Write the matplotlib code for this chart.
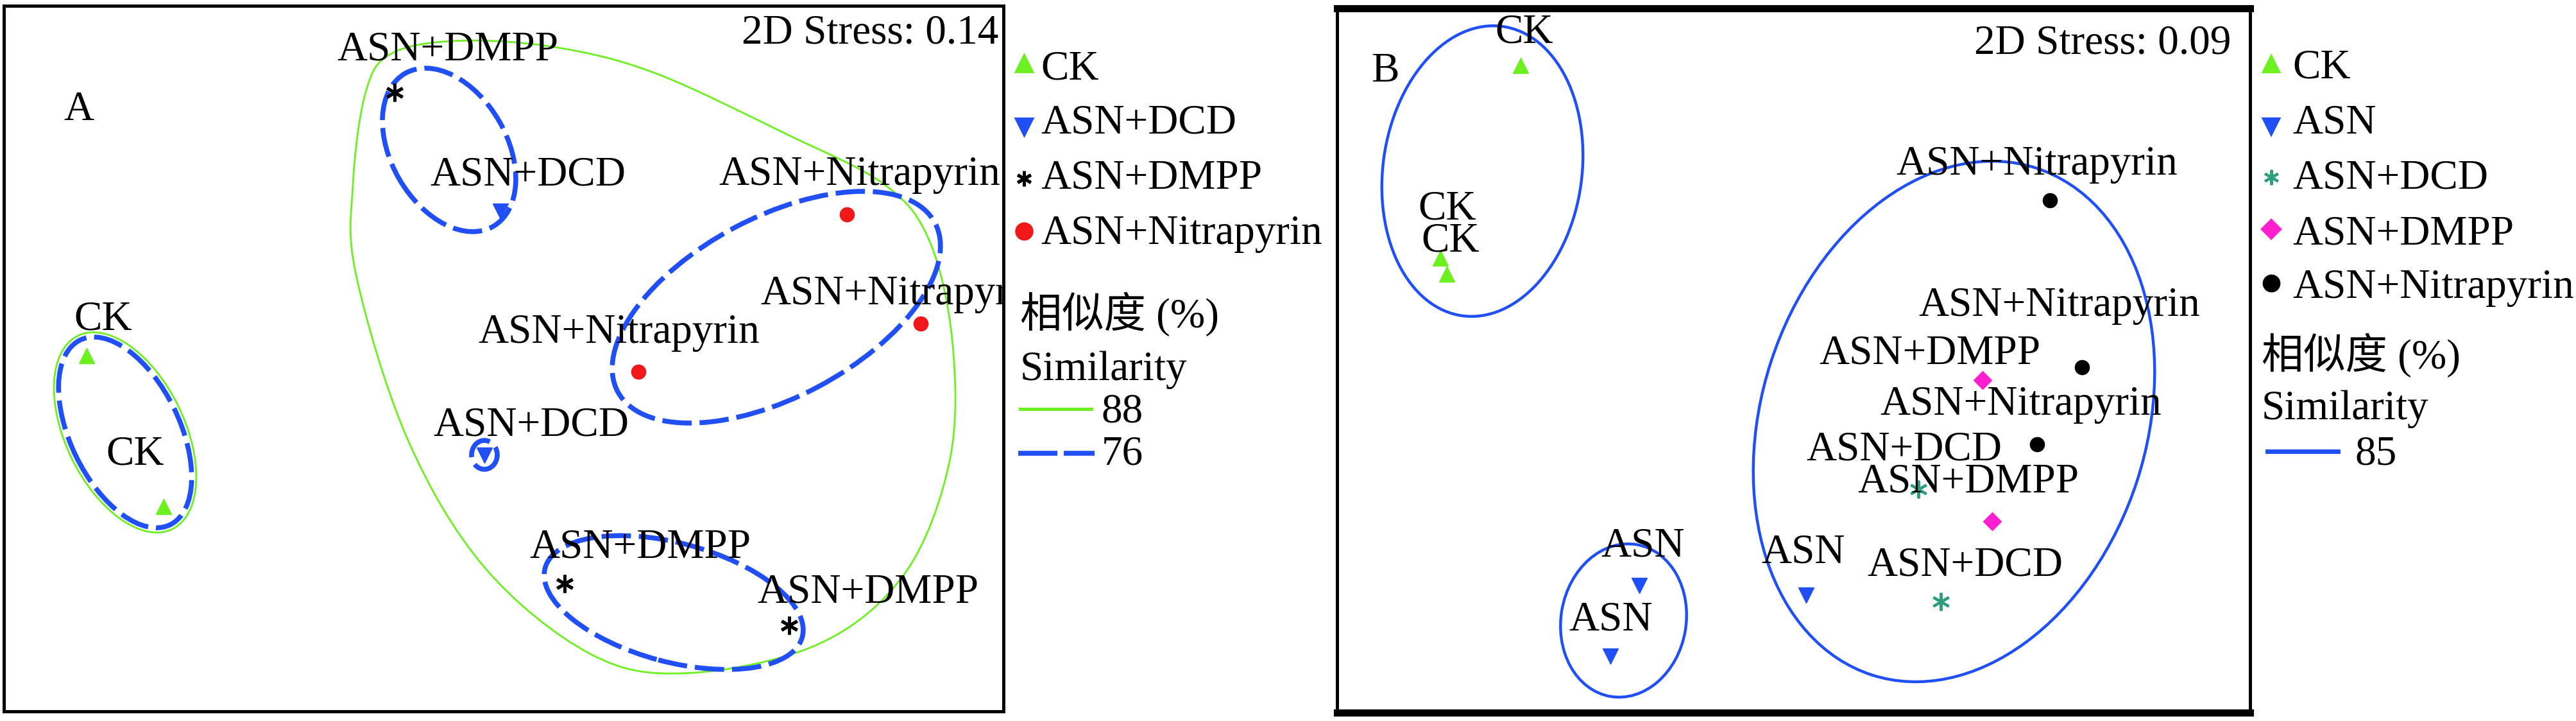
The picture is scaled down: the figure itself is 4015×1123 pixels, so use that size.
import numpy as np
import matplotlib.pyplot as plt
from matplotlib.patches import Ellipse, PathPatch
from matplotlib.path import Path
from matplotlib.lines import Line2D

plt.rcParams['font.family'] = ['Liberation Serif', 'Noto Sans CJK SC']

# ---------------- data (NMDS coordinates) ----------------
# panel A
a_ck_x = [-1.30, -1.06]
a_ck_y = [0.01, -0.46]
a_dcd_x = [-0.01, -0.06]
a_dcd_y = [0.46, -0.30]
a_dmpp_x = [-0.34, 0.19, 0.89]
a_dmpp_y = [0.83, -0.70, -0.83]
a_nit_x = [1.07, 1.30, 0.42]
a_nit_y = [0.45, 0.11, -0.04]
a_stress = '2D Stress: 0.14'

# 88 % similarity outline (big group) and clusters at 88 / 76 %
a_g88_x = [-0.43, -0.35, -0.14, 0.16, 0.47, 0.88, 1.19, 1.33, 1.40, 1.39,
           1.25, 0.98, 0.57, 0.27, -0.06, -0.30, -0.46, -0.47]
a_g88_y = [0.83, 0.95, 0.99, 0.97, 0.89, 0.70, 0.54, 0.36, 0.04, -0.32,
           -0.67, -0.89, -0.98, -0.92, -0.65, -0.25, 0.26, 0.54]
a_ck88 = (-1.18, -0.23, 0.67, 0.37, -64)
# (centre x, centre y, width, height, angle)
a_c76 = [(-1.18, -0.23, 0.64, 0.34, -64),
         (-0.17, 0.65, 0.55, 0.36, -60),
         (0.85, 0.16, 1.12, 0.56, 28),
         (0.53, -0.76, 0.83, 0.37, -15),
         (-0.06, -0.30, 0.08, 0.09, 0)]

# panel B
b_ck_x = [-0.85, -1.10, -1.08]
b_ck_y = [0.92, 0.32, 0.27]
b_asn_x = [0.04, -0.48, -0.57]
b_asn_y = [-0.73, -0.70, -0.92]
b_dcd_x = [0.39, 0.46]
b_dcd_y = [-0.40, -0.75]
b_dmpp_x = [0.59, 0.62]
b_dmpp_y = [-0.06, -0.50]
b_nit_x = [0.80, 0.90, 0.76]
b_nit_y = [0.50, -0.02, -0.26]
b_stress = '2D Stress: 0.09'
b_c85 = [(-0.97, 0.59, 0.91, 0.62, 82),
         (0.50, -0.19, 1.66, 1.20, 72),
         (-0.53, -0.81, 0.48, 0.39, 80)]

# point labels
a_lab = ['ASN+DMPP', 'ASN+DCD', 'ASN+Nitrapyrin', 'ASN+Nitrapyrin', 'ASN+Nitrapyrin',
         'ASN+DCD', 'CK', 'CK', 'ASN+DMPP', 'ASN+DMPP']
b_lab = ['CK', 'CK', 'CK', 'ASN+Nitrapyrin', 'ASN+Nitrapyrin', 'ASN+DMPP',
         'ASN+Nitrapyrin', 'ASN+DCD', 'ASN+DMPP', 'ASN+DCD', 'ASN', 'ASN', 'ASN']

# label anchor positions (left, baseline)
a_lab_pos = [(-0.52, 0.93), (-0.23, 0.54), (0.67, 0.54), (0.80, 0.17), (-0.08, 0.05),
             (-0.22, -0.24), (-1.34, 0.09), (-1.24, -0.33), (0.08, -0.62), (0.79, -0.76)]
b_lab_pos = [(-0.93, 0.99), (-1.17, 0.44), (-1.16, 0.34), (0.32, 0.58), (0.39, 0.14),
             (0.08, -0.01), (0.27, -0.17), (0.04, -0.31), (0.20, -0.41), (0.23, -0.67),
             (-0.10, -0.63), (-0.60, -0.61), (-0.70, -0.84)]

GREEN = '#6cf01f'
BLUE = '#1f4ff5'
RED = '#f01818'
TEAL = '#2e9e7e'
MAGENTA = '#ff1fcf'
FS = 47
ASTER = (6, 2, 0)

W, H = 4016, 1123
fig = plt.figure(figsize=(W / 100, H / 100), dpi=100)


def fx(X):
    return X / W


def fy(Y):
    return 1 - Y / H


def smooth_closed(xs, ys):
    # closed Catmull-Rom outline through the read points, drawn as bezier curves
    p = np.column_stack([xs, ys])
    n = len(p)
    verts = [p[0]]
    codes = [Path.MOVETO]
    for i in range(n):
        p0, p1, p2, p3 = p[i - 1], p[i], p[(i + 1) % n], p[(i + 2) % n]
        verts += [p1 + (p2 - p0) / 6, p2 - (p3 - p1) / 6, p2]
        codes += [Path.CURVE4] * 3
    return Path(verts, codes)


# ---------------- panel A ----------------
axA = fig.add_axes([fx(6), fy(1108), 1558 / W, 1099 / H])
axA.set_xlim(-1.558, 1.558)
axA.set_ylim(-1.099, 1.099)

axA.add_patch(PathPatch(smooth_closed(a_g88_x, a_g88_y), fill=False, color=GREEN, lw=2))
cx, cy, w, h, ang = a_ck88
axA.add_patch(Ellipse((cx, cy), w, h, angle=ang, fill=False, color=GREEN, lw=2))
for cx, cy, w, h, ang in a_c76:
    axA.add_patch(Ellipse((cx, cy), w, h, angle=ang, fill=False, color=BLUE, lw=5.5,
                          linestyle=(0, (6, 1.6))))

axA.plot(a_ck_x, a_ck_y, ls='none', marker='^', ms=17, color=GREEN)
axA.plot(a_dcd_x, a_dcd_y, ls='none', marker='v', ms=17, color=BLUE)
axA.plot(a_dmpp_x, a_dmpp_y, ls='none', marker=ASTER, ms=20, mew=3.5, color='black')
axA.plot(a_nit_x, a_nit_y, ls='none', marker='o', ms=16, color=RED)

for s, (x, y) in zip(a_lab, a_lab_pos):
    axA.text(x, y, s, fontsize=FS, va='baseline', ha='left', clip_on=True)
axA.text(0.995, 0.947, a_stress, transform=axA.transAxes, fontsize=FS, ha='right', va='baseline')
axA.text(0.060, 0.838, 'A', transform=axA.transAxes, fontsize=FS, ha='left', va='baseline')

axA.set_xticks([])
axA.set_yticks([])
for sp in axA.spines.values():
    sp.set_linewidth(3.6)

# ---------------- panel B ----------------
axB = fig.add_axes([fx(2084), fy(1110), 1423 / W, 1097 / H])
axB.set_xlim(-1.423, 1.423)
axB.set_ylim(-1.097, 1.097)

for cx, cy, w, h, ang in b_c85:
    axB.add_patch(Ellipse((cx, cy), w, h, angle=ang, fill=False, color=BLUE, lw=3.2))

axB.plot(b_ck_x, b_ck_y, ls='none', marker='^', ms=17, color=GREEN)
axB.plot(b_asn_x, b_asn_y, ls='none', marker='v', ms=17, color=BLUE)
axB.plot(b_dcd_x, b_dcd_y, ls='none', marker=ASTER, ms=20, mew=3, color=TEAL)
axB.plot(b_dmpp_x, b_dmpp_y, ls='none', marker='D', ms=14, color=MAGENTA)
axB.plot(b_nit_x, b_nit_y, ls='none', marker='o', ms=16, color='black')

for s, (x, y) in zip(b_lab, b_lab_pos):
    axB.text(x, y, s, fontsize=FS, va='baseline', ha='left', clip_on=True)
axB.text(0.979, 0.936, b_stress, transform=axB.transAxes, fontsize=FS, ha='right', va='baseline')
axB.text(0.037, 0.896, 'B', transform=axB.transAxes, fontsize=FS, ha='left', va='baseline')

axB.set_xticks([])
axB.set_yticks([])
axB.spines['top'].set_linewidth(8)
axB.spines['bottom'].set_linewidth(8)
axB.spines['left'].set_linewidth(3.6)
axB.spines['right'].set_linewidth(3.6)

# ---------------- legends ----------------
# panel A: (marker, colour, label, baseline y, marker offset)
legA = [('^', GREEN, 'CK', 123, 24),
        ('v', BLUE, 'ASN+DCD', 208, 11),
        (ASTER, 'black', 'ASN+DMPP', 293, 15),
        ('o', RED, 'ASN+Nitrapyrin', 380, 20)]
for m, c, s, yb, dy in legA:
    fig.add_artist(Line2D([fx(1596)], [fy(yb - dy)], transform=fig.transFigure, marker=m,
                          ms=17, mew=3.5, color=c, ls='none'))
    fig.text(fx(1622), fy(yb), s, fontsize=FS, va='baseline')
fig.text(fx(1590), fy(510), '相似度 (%)', fontsize=FS, va='baseline')
fig.text(fx(1590), fy(592), 'Similarity', fontsize=FS, va='baseline')
fig.add_artist(Line2D([fx(1590), fx(1701)], [fy(637), fy(637)], transform=fig.transFigure,
                      color=GREEN, lw=3.6))
fig.text(fx(1717), fy(658), '88', fontsize=FS, va='baseline')
fig.add_artist(Line2D([fx(1587), fx(1706)], [fy(706), fy(706)], transform=fig.transFigure,
                      color=BLUE, lw=5.5, dashes=(8, 1.3)))
fig.text(fx(1717), fy(724), '76', fontsize=FS, va='baseline')

# panel B
legB = [('^', GREEN, 'CK', 122, 22),
        ('v', BLUE, 'ASN', 207, 10),
        (ASTER, TEAL, 'ASN+DCD', 293, 17),
        ('D', MAGENTA, 'ASN+DMPP', 380, 23),
        ('o', 'black', 'ASN+Nitrapyrin', 464, 23)]
for m, c, s, yb, dy in legB:
    fig.add_artist(Line2D([fx(3540)], [fy(yb - dy)], transform=fig.transFigure, marker=m,
                          ms=14 if m == 'D' else 17, mew=3, color=c, ls='none'))
    fig.text(fx(3573), fy(yb), s, fontsize=FS, va='baseline')
fig.text(fx(3525), fy(574), '相似度 (%)', fontsize=FS, va='baseline')
fig.text(fx(3525), fy(653), 'Similarity', fontsize=FS, va='baseline')
fig.add_artist(Line2D([fx(3534), fx(3644)], [fy(703), fy(703)], transform=fig.transFigure,
                      color=BLUE, lw=5))
fig.text(fx(3671), fy(724), '85', fontsize=FS, va='baseline')

fig.savefig('out.png', dpi=100)
